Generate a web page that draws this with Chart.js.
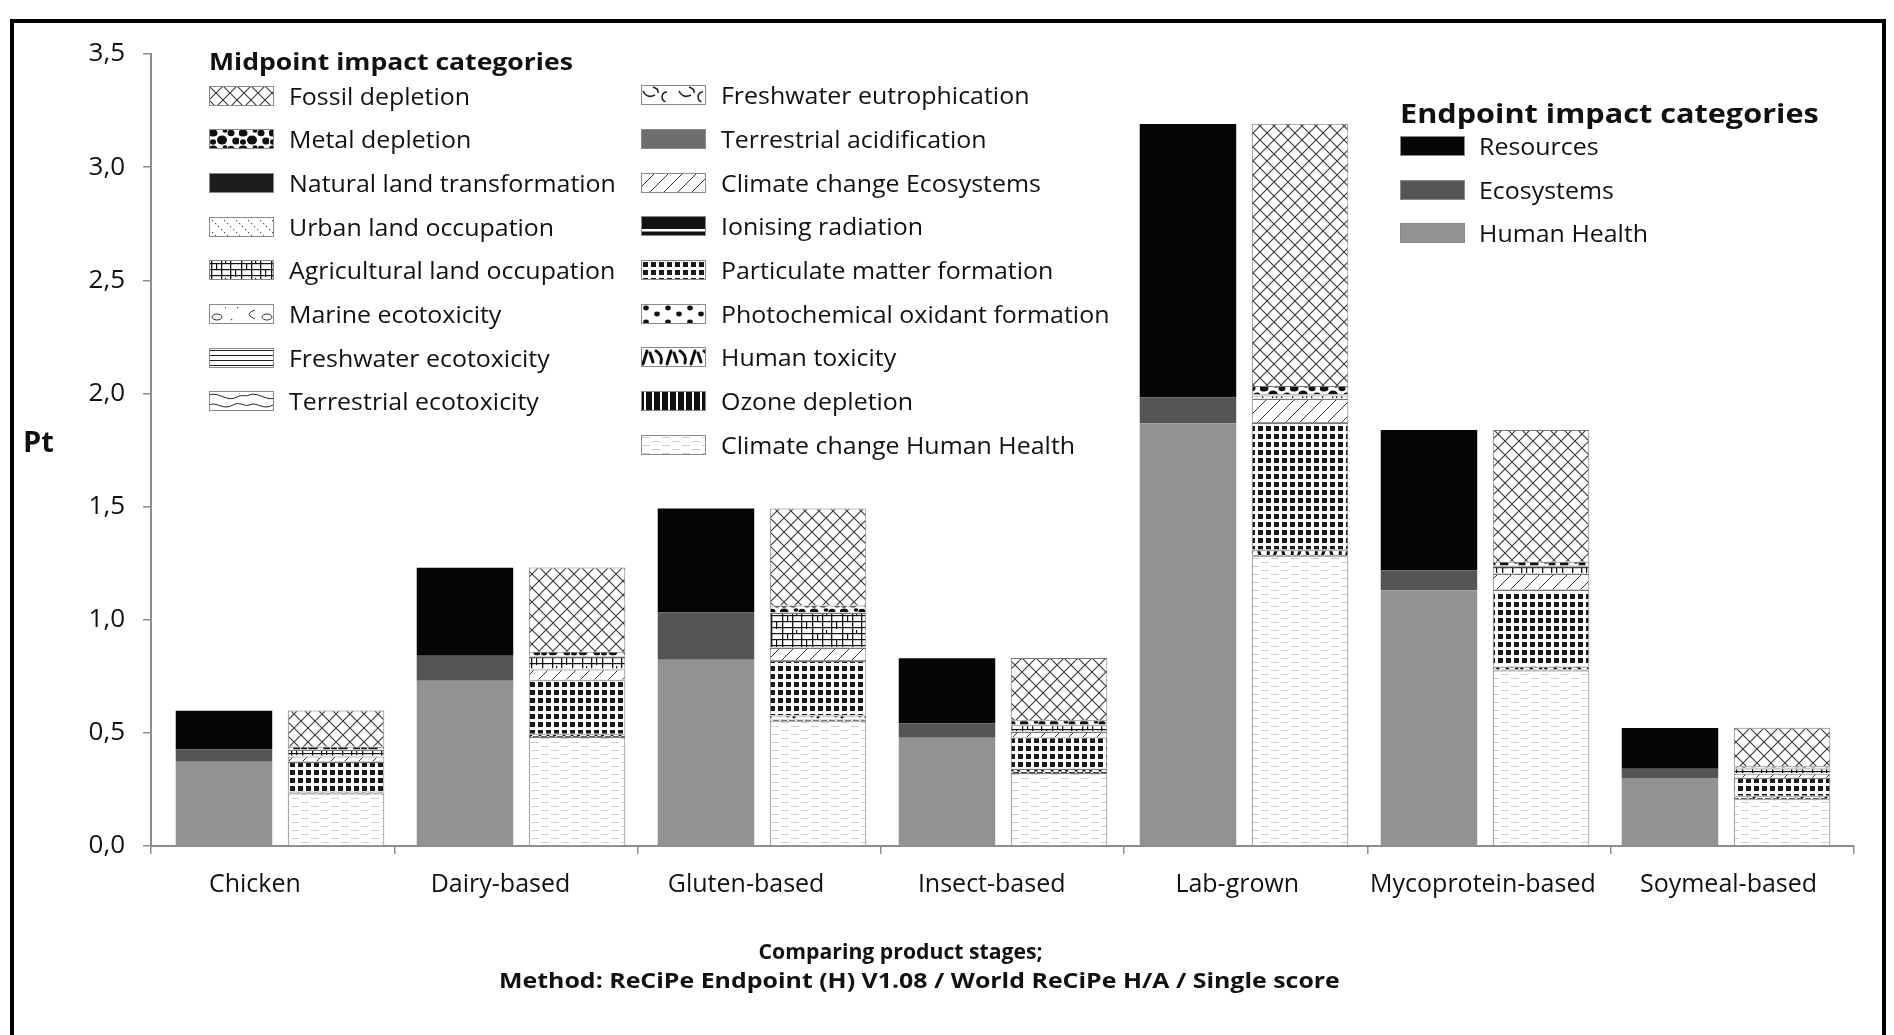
<!DOCTYPE html>
<html>
<head>
<meta charset="utf-8">
<script src="https://cdn.jsdelivr.net/npm/chart.js@4.4.1/dist/chart.umd.min.js"></script>
<style>
  html, body { margin: 0; padding: 0; background: #fff; }
  body { width: 1894px; height: 1035px; overflow: hidden; position: relative; font-family: 'Open Sans', Lato, sans-serif; color: #111; }
  #frame { position: absolute; left: 10px; top: 19px; width: 1868px; height: 1100px; border: 4px solid #000; border-bottom: none; }
  #chart { position: absolute; left: 0; top: 0; }
  .ltitle { position: absolute; font-weight: 700; font-size: 24px; line-height: 30px; margin-top: -15px; white-space: nowrap; transform-origin: 0 50%; }
  .lrow { position: absolute; height: 30px; margin-top: -15px; white-space: nowrap; }
  .lrow canvas { position: absolute; left: 0; top: 5px; }
  .lrow span { position: absolute; font-size: 23px; line-height: 30px; top: 0; transform: scaleX(1.084); transform-origin: 0 50%; }
  #pt { position: absolute; left: 23px; top: 421px; font-weight: 700; font-size: 29px; line-height: 40px; }
  .xt { position: absolute; width: 1600px; text-align: center; font-weight: 700; font-size: 21px; line-height: 28px; margin-top: -14px; }
  .xt span { display: inline-block; white-space: nowrap; }
</style>
</head>
<body>
<div id="frame"></div>
<canvas id="chart" width="1894" height="1035"></canvas>
<div id="pt">Pt</div>
<div class="xt" style="left:101px; top:951px;"><span style="transform:scaleX(1.01)">Comparing product stages;</span></div>
<div class="xt" style="left:119px; top:980px;"><span style="transform:scaleX(1.186)">Method: ReCiPe Endpoint (H) V1.08 / World ReCiPe H/A / Single score</span></div>
<div id="legends"></div>
<script>
const categories = ['Chicken', 'Dairy-based', 'Gluten-based', 'Insect-based', 'Lab-grown', 'Mycoprotein-based', 'Soymeal-based'];
const yTicks = [0, 0.5, 1, 1.5, 2, 2.5, 3, 3.5];

// Endpoint single score (Pt), bottom to top
const humanHealth = [0.372, 0.730, 0.823, 0.478, 1.868, 1.130, 0.300];
const ecosystems  = [0.055, 0.111, 0.210, 0.064, 0.115, 0.089, 0.041];
const resources   = [0.171, 0.389, 0.458, 0.288, 1.208, 0.619, 0.180];

// Midpoint single score (Pt), bottom to top
const ccHumanHealth   = [0.232, 0.482, 0.554, 0.323, 1.280, 0.776, 0.207];
const ozoneDepletion  = [0.004, 0.004, 0.005, 0.005, 0.005, 0.004, 0.005];
const humanToxicity   = [0.005, 0.008, 0.018, 0.012, 0.022, 0.012, 0.008];
const photochemOxid   = [0.001, 0.002, 0.002, 0.002, 0.003, 0.002, 0.002];
const particulate     = [0.129, 0.236, 0.239, 0.137, 0.559, 0.337, 0.078];
const ionising        = [0.002, 0.003, 0.003, 0.002, 0.004, 0.003, 0.002];
const ccEcosystems    = [0.022, 0.045, 0.054, 0.023, 0.102, 0.068, 0.017];
const terrAcid        = [0.001, 0.001, 0.001, 0.001, 0.001, 0.001, 0.001];
const fwEutroph       = [0.0005, 0.001, 0.001, 0.0005, 0.001, 0.0005, 0.0005];
const terrEcotox      = [0.0003, 0.0003, 0.0003, 0.0003, 0.0003, 0.0003, 0.0003];
const fwEcotox        = [0.001, 0.001, 0.001, 0.001, 0.001, 0.001, 0.001];
const marineEcotox    = [0.001, 0.001, 0.001, 0.001, 0.001, 0.001, 0.001];
const agriLand        = [0.025, 0.053, 0.150, 0.026, 0.012, 0.030, 0.020];
const urbanLand       = [0.002, 0.002, 0.003, 0.002, 0.004, 0.003, 0.002];
const naturalLand     = [0.001, 0.001, 0.001, 0.001, 0.002, 0.001, 0.001];
const metalDepletion  = [0.012, 0.018, 0.030, 0.019, 0.035, 0.016, 0.007];
const fossilDepletion = [0.160, 0.372, 0.428, 0.275, 1.159, 0.583, 0.170];

const FONT = "'Open Sans', Lato, sans-serif";

// In the original the bar pairs and the category names are spaced a little
// differently from the category ticks, so both sit on their own linear axes.
const BAR_AXIS_MIN = -0.5353, BAR_AXIS_MAX = 6.5311;
const LABEL_AXIS_MIN = -0.4230, LABEL_AXIS_MAX = 6.5110;
const indexTicks = s => { s.ticks = categories.map((c, i) => ({ value: i })); };

// --- fill patterns (black & white hatches like the original) ---
function makeTile(w, h, bg, draw) {
  const c = document.createElement('canvas');
  c.width = w; c.height = h;
  const g = c.getContext('2d');
  g.fillStyle = bg;
  g.fillRect(0, 0, w, h);
  if (draw) draw(g, w, h);
  return c;
}
function blob(g, x, y, rx, ry) {
  g.beginPath(); g.ellipse(x, y, rx, ry, 0, 0, Math.PI * 2); g.fill();
}

const tiles = {
  fossil: makeTile(14, 14, '#fff', (g, w, h) => {
    g.strokeStyle = '#3a3a3a'; g.lineWidth = 1.1;
    g.beginPath();
    g.moveTo(-1, -1); g.lineTo(w + 1, h + 1);
    g.moveTo(w + 1, -1); g.lineTo(-1, h + 1);
    g.stroke();
  }),
  metal: makeTile(30, 16, '#fff', g => {
    g.fillStyle = '#111';
    blob(g, 4, 4, 4.5, 3.6); blob(g, 13, 11, 5, 4.5); blob(g, 22, 4, 3.5, 3.2);
    blob(g, 27, 12, 3.8, 3.4); blob(g, 4, 13, 3, 2.8); blob(g, 16, 2, 2.4, 1.8);
  }),
  natural: makeTile(4, 4, '#1c1c1c'),
  urban: makeTile(12, 12, '#fff', g => {
    g.fillStyle = '#555';
    for (let i = 0; i < 12; i += 3) g.fillRect(i, i, 1.2, 1.2);
  }),
  agri: makeTile(30, 18, '#fff', g => {
    g.fillStyle = '#111';
    [3, 9, 15].forEach(y => g.fillRect(0, y, 30, 1.2));
    [2, 12, 21].forEach(x => g.fillRect(x, 0, 1.3, 18));
    g.fillRect(7, 3, 1.2, 7); g.fillRect(26, 9, 1.2, 8); g.fillRect(16, 0, 1.2, 4);
  }),
  marine: makeTile(50, 20, '#fff', g => {
    g.strokeStyle = '#333'; g.lineWidth = 1;
    g.beginPath(); g.ellipse(8, 13, 5, 3, 0, 0, Math.PI * 2); g.stroke();
    g.beginPath(); g.moveTo(46, 6); g.quadraticCurveTo(34, 10, 46, 15); g.stroke();
    g.fillStyle = '#333';
    g.fillRect(22, 15, 1.2, 1.2); g.fillRect(28, 3, 1.2, 1.2); g.fillRect(16, 3, 1, 1);
  }),
  fwEcotox: makeTile(4, 5, '#fff', g => { g.fillStyle = '#222'; g.fillRect(0, 2, 4, 1); }),
  terrEcotox: makeTile(40, 20, '#fff', g => {
    g.strokeStyle = '#222'; g.lineWidth = 1;
    g.beginPath();
    g.moveTo(0, 4); g.bezierCurveTo(10, 0, 18, 12, 28, 6); g.bezierCurveTo(34, 3, 38, 6, 40, 4);
    g.moveTo(0, 14); g.bezierCurveTo(8, 10, 14, 20, 24, 14); g.bezierCurveTo(30, 10, 36, 16, 40, 14);
    g.stroke();
  }),
  fwEutroph: makeTile(36, 20, '#fff', g => {
    g.strokeStyle = '#222'; g.lineWidth = 1.6;
    g.beginPath(); g.moveTo(2, 6); g.quadraticCurveTo(6, 14, 14, 10); g.stroke();
    g.beginPath(); g.arc(26, 12, 5, Math.PI * 0.6, Math.PI * 1.5); g.stroke();
    g.beginPath(); g.moveTo(12, 2); g.quadraticCurveTo(18, 4, 17, 8); g.stroke();
  }),
  terrAcid: makeTile(4, 4, '#6e6e6e'),
  ccEco: makeTile(14, 14, '#fff', (g, w, h) => {
    g.strokeStyle = '#333'; g.lineWidth = 1;
    g.beginPath(); g.moveTo(-1, h + 1); g.lineTo(w + 1, -1); g.stroke();
  }),
  ionising: makeTile(6, 20, '#111', g => { g.fillStyle = '#fff'; g.fillRect(0, 13, 6, 2.5); }),
  particulate: makeTile(8, 8, '#fff', g => { g.fillStyle = '#1a1a1a'; g.fillRect(2, 2, 5, 5); }),
  photochem: makeTile(22, 14, '#fff', g => {
    g.fillStyle = '#111'; blob(g, 5, 4, 2.8, 2.4); blob(g, 16, 10, 2.8, 2.4);
  }),
  humanTox: makeTile(24, 20, '#fff', g => {
    g.strokeStyle = '#111'; g.lineWidth = 3; g.lineCap = 'round';
    g.beginPath();
    g.moveTo(2, 17); g.lineTo(6, 4);
    g.moveTo(9, 6); g.lineTo(12, 15);
    g.moveTo(15, 4); g.quadraticCurveTo(22, 8, 20, 16);
    g.stroke();
  }),
  ozone: makeTile(8, 8, '#111', g => { g.fillStyle = '#fff'; g.fillRect(3, 0, 2, 8); }),
  ccHH: makeTile(20, 8, '#fff', g => {
    g.fillStyle = '#cfcfcf'; g.fillRect(1, 2, 8, 1); g.fillRect(11, 6, 8, 1);
  })
};

const ctx = document.getElementById('chart').getContext('2d');
const pat = key => ctx.createPattern(tiles[key], 'repeat');

const endpointSeries = [
  { label: 'Human Health', data: humanHealth, color: '#929292' },
  { label: 'Ecosystems', data: ecosystems, color: '#555555' },
  { label: 'Resources', data: resources, color: '#050505' }
];

const midpointSeries = [
  { label: 'Climate change Human Health', data: ccHumanHealth, tile: 'ccHH' },
  { label: 'Ozone depletion', data: ozoneDepletion, tile: 'ozone' },
  { label: 'Human toxicity', data: humanToxicity, tile: 'humanTox' },
  { label: 'Photochemical oxidant formation', data: photochemOxid, tile: 'photochem' },
  { label: 'Particulate matter formation', data: particulate, tile: 'particulate' },
  { label: 'Ionising radiation', data: ionising, tile: 'ionising' },
  { label: 'Climate change Ecosystems', data: ccEcosystems, tile: 'ccEco' },
  { label: 'Terrestrial acidification', data: terrAcid, tile: 'terrAcid' },
  { label: 'Freshwater eutrophication', data: fwEutroph, tile: 'fwEutroph' },
  { label: 'Terrestrial ecotoxicity', data: terrEcotox, tile: 'terrEcotox' },
  { label: 'Freshwater ecotoxicity', data: fwEcotox, tile: 'fwEcotox' },
  { label: 'Marine ecotoxicity', data: marineEcotox, tile: 'marine' },
  { label: 'Agricultural land occupation', data: agriLand, tile: 'agri' },
  { label: 'Urban land occupation', data: urbanLand, tile: 'urban' },
  { label: 'Natural land transformation', data: naturalLand, tile: 'natural' },
  { label: 'Metal depletion', data: metalDepletion, tile: 'metal' },
  { label: 'Fossil depletion', data: fossilDepletion, tile: 'fossil' }
];

const toPoints = arr => arr.map((v, i) => ({ x: i, y: v }));

const datasets = [
  ...endpointSeries.map(s => ({
    label: s.label, data: toPoints(s.data), stack: 'endpoint', xAxisID: 'xb',
    backgroundColor: s.color, borderWidth: 0
  })),
  ...midpointSeries.map(s => ({
    label: s.label, data: toPoints(s.data), stack: 'midpoint', xAxisID: 'xb',
    backgroundColor: pat(s.tile), borderColor: '#777', borderWidth: 1
  }))
];

const axisGray = '#8c8c8c';

new Chart(ctx, {
  type: 'bar',
  data: { labels: categories, datasets },
  options: {
    responsive: false,
    animation: false,
    layout: { padding: { left: 0, right: 40, top: 54, bottom: 0 } },
    datasets: { bar: { categoryPercentage: 0.930, barPercentage: 0.861 } },
    plugins: { legend: { display: false }, tooltip: { enabled: false } },
    scales: {
      // axis line and category tick marks
      x: {
        type: 'category', weight: 0,
        grid: { drawOnChartArea: false, offset: true, tickLength: 8, color: axisGray, lineWidth: 1.5 },
        border: { color: axisGray, width: 2 },
        ticks: { display: false },
        afterFit: s => { s.height = 10; }
      },
      // category names
      xl: {
        type: 'linear', position: 'bottom', weight: 1, offset: false,
        min: LABEL_AXIS_MIN, max: LABEL_AXIS_MAX,
        afterBuildTicks: indexTicks,
        grid: { display: false },
        border: { display: false },
        ticks: { color: '#111', font: { family: FONT, size: 25 }, padding: 6, maxRotation: 0, autoSkip: false,
          callback: v => categories[v] },
        afterFit: s => { s.height = 179; }
      },
      // bars
      xb: {
        type: 'linear', display: false, stacked: true, offset: false,
        min: BAR_AXIS_MIN, max: BAR_AXIS_MAX,
        afterBuildTicks: indexTicks
      },
      y: {
        stacked: true,
        min: 0, max: 3.5,
        afterBuildTicks: s => { s.ticks = yTicks.map(v => ({ value: v })); },
        ticks: { color: '#111', font: { family: FONT, size: 26 }, padding: 18,
          callback: v => v.toFixed(1).replace('.', ',') },
        grid: { drawOnChartArea: false, tickLength: 8, color: axisGray, lineWidth: 1.5 },
        border: { color: axisGray, width: 2 },
        afterFit: s => { s.width = 151; }
      }
    }
  }
});

// --- legends (two blocks drawn as HTML over the plot) ---
const legendBox = document.getElementById('legends');
function swatch(fill, w, h) {
  const c = document.createElement('canvas');
  c.width = w; c.height = h;
  const g = c.getContext('2d');
  g.fillStyle = typeof fill === 'string' ? fill : g.createPattern(tiles[fill.tile], 'repeat');
  g.fillRect(0, 0, w, h);
  g.strokeStyle = '#8a8a8a'; g.lineWidth = 1;
  g.strokeRect(0.5, 0.5, w - 1, h - 1);
  return c;
}
function addTitle(text, x, y, size, stretch) {
  const d = document.createElement('div');
  d.className = 'ltitle';
  d.textContent = text;
  d.style.left = x + 'px'; d.style.top = y + 'px';
  d.style.fontSize = size + 'px';
  d.style.transform = 'scaleX(' + stretch + ')';
  legendBox.appendChild(d);
}
function addRow(text, fill, x, textX, y) {
  const d = document.createElement('div');
  d.className = 'lrow';
  d.style.left = x + 'px'; d.style.top = y + 'px';
  d.appendChild(swatch(fill, 65, 20));
  const sp = document.createElement('span');
  sp.textContent = text;
  sp.style.left = (textX - x) + 'px';
  d.appendChild(sp);
  legendBox.appendChild(d);
}

const midLegend = midpointSeries.slice().reverse();
addTitle('Midpoint impact categories', 209, 61, 24, 1.107);
midLegend.slice(0, 8).forEach((s, i) => addRow(s.label, { tile: s.tile }, 209, 289, 95.7 + 43.66 * i));
midLegend.slice(8).forEach((s, i) => addRow(s.label, { tile: s.tile }, 641, 721, 95.2 + 43.7 * i));

addTitle('Endpoint impact categories', 1400, 113, 27, 1.135);
endpointSeries.slice().reverse().forEach((s, i) => addRow(s.label, s.color, 1400, 1479, 146 + 43.6 * i));
</script>
</body>
</html>
